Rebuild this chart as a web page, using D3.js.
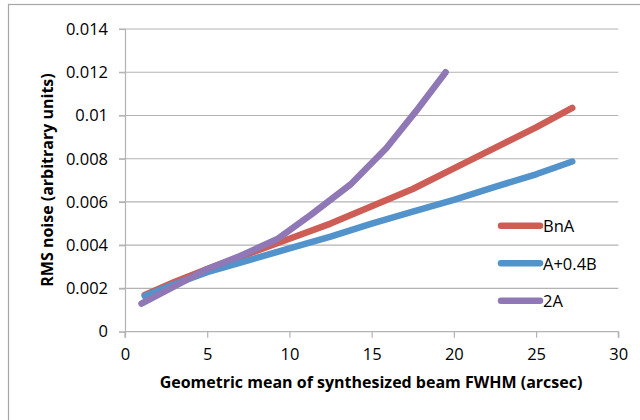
<!DOCTYPE html>
<html>
<head>
<meta charset="utf-8">
<script src="https://cdn.jsdelivr.net/npm/d3@7"></script>
<style>
  html, body { margin: 0; padding: 0; background: #fff; }
  svg { display: block; font-family: "Open Sans", "Liberation Sans", sans-serif; }
</style>
</head>
<body>
<div id="chart"></div>
<script>
// series data
const seriesNames = ["BnA", "A+0.4B", "2A"];
const bnaX = [1.2, 3, 5, 7.5, 10, 12.5, 15, 17.5, 20, 22.5, 25, 27.2];
const bnaY = [0.0017, 0.0023, 0.0029, 0.0036, 0.0043, 0.0050, 0.0058, 0.0066, 0.00755, 0.0085, 0.00945, 0.01035];
const blueX = [1.2, 3, 5, 7.5, 10, 12.5, 15, 17.5, 20, 22.5, 25, 27.2];
const blueY = [0.00165, 0.0022, 0.00275, 0.0033, 0.00385, 0.0044, 0.0050, 0.00555, 0.0061, 0.0067, 0.00728, 0.00787];
const twoAX = [1.0, 3, 5, 7, 9.3, 11.3, 13.7, 15.9, 17.7, 19.5];
const twoAY = [0.0013, 0.0021, 0.0029, 0.0035, 0.0043, 0.0054, 0.0068, 0.0085, 0.0102, 0.0120];
const xTicks = [0, 5, 10, 15, 20, 25, 30];
const yTicks = [0, 0.002, 0.004, 0.006, 0.008, 0.01, 0.012, 0.014];
const yTickLabels = ["0", "0.002", "0.004", "0.006", "0.008", "0.01", "0.012", "0.014"];
const colors = ["#cd5d55", "#5393cc", "#8f78b5"];

const width = 640, height = 420;
const svg = d3.select("#chart").append("svg")
    .attr("width", width).attr("height", height);

// outer chart border (runs off the right and bottom edges)
svg.append("rect")
    .attr("x", 8.5).attr("y", 4.5)
    .attr("width", 700).attr("height", 500)
    .attr("fill", "none").attr("stroke", "#a6a6a6").attr("stroke-width", 1.2);

const x = d3.scaleLinear().domain([0, 30]).range([125, 618.3]);
const y = d3.scaleLinear().domain([0, 0.014]).range([331.7, 29]);

// gridlines
svg.append("g").selectAll("line")
    .data(yTicks.slice(1))
    .join("line")
    .attr("x1", 119).attr("x2", x(30))
    .attr("y1", d => y(d)).attr("y2", d => y(d))
    .attr("stroke", "#b3b3b3").attr("stroke-width", 1.2);

// axes
const xAxis = svg.append("g")
    .attr("transform", `translate(0,${y(0)})`)
    .call(d3.axisBottom(x).tickValues(xTicks).tickSize(6).tickPadding(11));
const yAxis = svg.append("g")
    .attr("transform", `translate(${x(0)},0)`)
    .call(d3.axisLeft(y).tickValues(yTicks).tickSize(6).tickPadding(11)
        .tickFormat((d, i) => yTickLabels[i]));

[xAxis, yAxis].forEach(g => {
    g.select(".domain").attr("stroke", "#b3b3b3").attr("stroke-width", 1.2);
    g.selectAll(".tick line").attr("stroke", "#b3b3b3").attr("stroke-width", 1.2);
    g.selectAll(".tick text")
        .attr("fill", "#000")
        .style("font-family", '"Open Sans", sans-serif')
        .style("font-size", "16.5px");
});
xAxis.select(".domain").attr("d", `M${x(0)},6V0H${x(30)}V6`);

// series lines
const series = [
    { name: seriesNames[0], xs: bnaX, ys: bnaY, color: colors[0] },
    { name: seriesNames[1], xs: blueX, ys: blueY, color: colors[1] },
    { name: seriesNames[2], xs: twoAX, ys: twoAY, color: colors[2] }
];
const line = d3.line().x(d => x(d[0])).y(d => y(d[1]));

svg.append("g").selectAll("path")
    .data(series)
    .join("path")
    .attr("d", s => line(d3.zip(s.xs, s.ys)))
    .attr("fill", "none")
    .attr("stroke", s => s.color)
    .attr("stroke-width", 6.5)
    .attr("stroke-linecap", "round")
    .attr("stroke-linejoin", "round");

// legend
const legend = svg.append("g").selectAll("g")
    .data(series)
    .join("g")
    .attr("transform", (d, i) => `translate(501,${225.7 + i * 37.5})`);
legend.append("line")
    .attr("x1", 0).attr("x2", 39)
    .attr("stroke", d => d.color)
    .attr("stroke-width", 6.5)
    .attr("stroke-linecap", "round");
legend.append("text")
    .attr("x", 42).attr("y", 6.5)
    .style("font-size", "16.5px")
    .text(d => d.name);

// axis titles
svg.append("text")
    .attr("x", 371).attr("y", 388)
    .attr("text-anchor", "middle")
    .style("font-weight", "bold")
    .style("font-size", "16px")
    .text("Geometric mean of synthesized beam FWHM (arcsec)");

svg.append("text")
    .attr("transform", "translate(53,180) rotate(-90)")
    .attr("text-anchor", "middle")
    .style("font-weight", "bold")
    .style("font-size", "16px")
    .text("RMS noise (arbitrary units)");
</script>
</body>
</html>
